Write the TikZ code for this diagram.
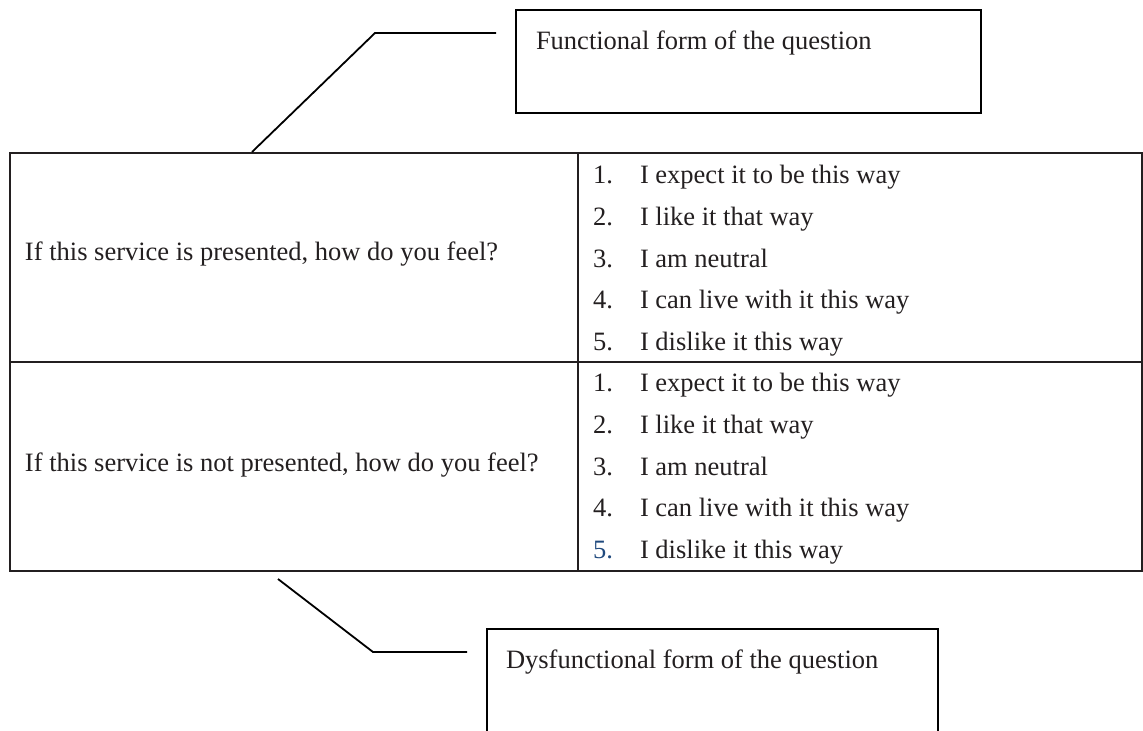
\documentclass[tikz,border=0pt]{standalone}
\usepackage{fontspec}
\setmainfont{Liberation Serif}
\definecolor{ink}{RGB}{35,31,32}
\definecolor{numblue}{RGB}{31,73,125}
\begin{document}
\begin{tikzpicture}[x=0.5pt,y=-0.5pt,
  txt/.style={anchor=base west,inner sep=0pt,outer sep=0pt,text=ink,font=\fontsize{13.25pt}{16pt}\selectfont},
  tline/.style={draw=ink,line width=1.45pt},
  boxline/.style={draw=black,line width=1.1pt},
  leader/.style={draw=black,line width=0.9pt}]
\useasboundingbox (0,0) rectangle (1143,731);
% top callout box
\node[boxline,anchor=north west,minimum width=232.5pt,minimum height=51.5pt,inner sep=0pt] (fbox) at (515,9) {};
\node[txt] (ftext) at (536,50) {Functional form of the question};
% bottom callout box
\node[boxline,anchor=north west,minimum width=225.5pt,minimum height=70pt,inner sep=0pt] (dbox) at (486,628) {};
\node[txt] (dtext) at (506,668) {Dysfunctional form of the question};
% table
\draw[tline] (10,153) rectangle (1142,571);
\draw[tline] (10,362) -- (1142,362);
\draw[tline] (578,153) -- (578,571);
% left questions
\node[txt] (q1) at (25,261) {If this service is presented, how do you feel?};
\node[txt] (q2) at (25,471) {If this service is not presented, how do you feel?};
% answers
\foreach \n/\t [count=\i from 0] in {1/I expect it to be this way,2/I like it that way,3/I am neutral,4/I can live with it this way,5/I dislike it this way}{
  \node[txt] (an\n) at (593,184+41.6*\i) {\n.};
  \node[txt] (at\n) at (640,184+41.6*\i) {\t};
}
\foreach \n/\t [count=\i from 0] in {1/I expect it to be this way,2/I like it that way,3/I am neutral,4/I can live with it this way}{
  \node[txt] (bn\n) at (593,392+41.5*\i) {\n.};
  \node[txt] (bt\n) at (640,392+41.5*\i) {\t};
}
\node[txt,text=numblue] (bn5) at (593,558) {5.};
\node[txt] (bt5) at (640,558) {I dislike it this way};
% leaders
\coordinate (fa) at (252,152);
\coordinate (fb) at (375,33);
\coordinate (fc) at (496,33);
\draw[leader] (fa) -- (fb) -- (fc);
\coordinate (da) at (278,579);
\coordinate (db) at (373,652);
\coordinate (dc) at (467,652);
\draw[leader] (da) -- (db) -- (dc);
\end{tikzpicture}
\end{document}
